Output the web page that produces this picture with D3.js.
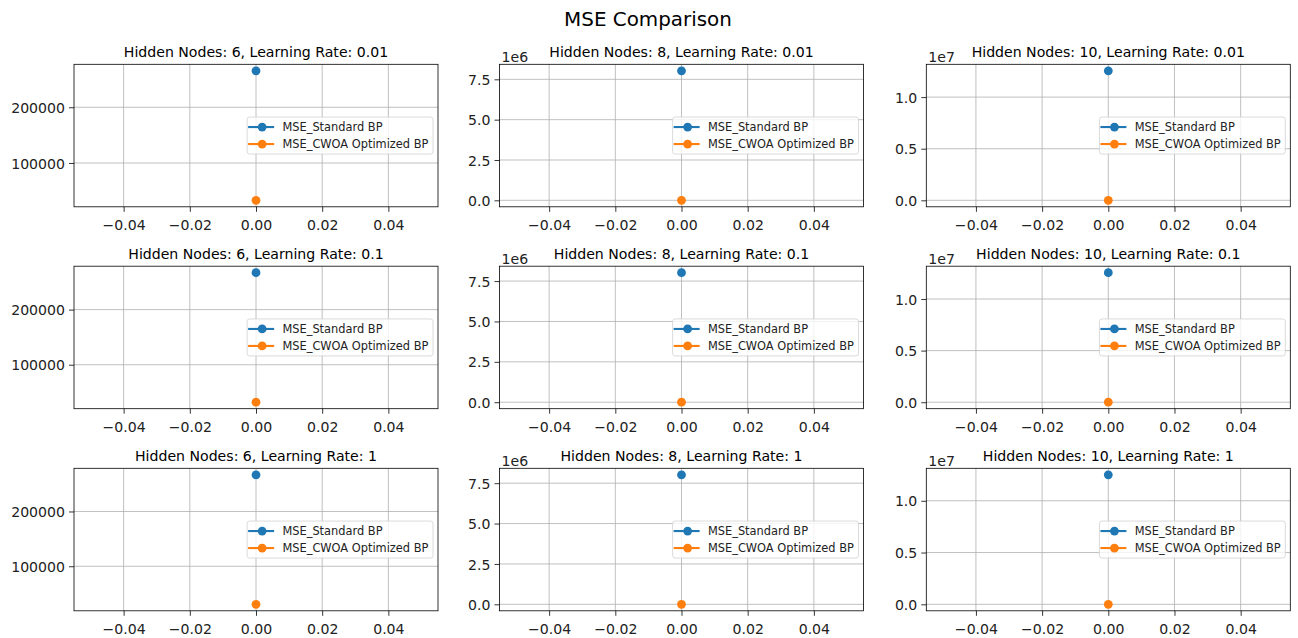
<!DOCTYPE html>
<html>
<head>
<meta charset="utf-8">
<script src="https://cdn.jsdelivr.net/npm/d3@7"></script>
<style>
  html, body { margin: 0; padding: 0; background: #fff; }
  svg { display: block; font-family: "DejaVu Sans", sans-serif; }
</style>
</head>
<body>
<svg id="chart" width="1298" height="638"></svg>
<script>
// Grid of runs: rows = learning rate, columns = hidden nodes
const hiddenNodes = [6, 8, 10];
const learningRates = ["0.01", "0.1", "1"];

// MSE of the standard BP network, [row][column]
const mseStandard = [
  [265500, 8030000, 12550000],
  [267000, 8020000, 12550000],
  [267000, 8020000, 12510000]
];
// MSE of the CWOA-optimised BP network, [row][column]
const mseCWOA = [
  [33000, 0, 0],
  [32000, 0, 0],
  [30500, 0, 0]
];

// Single evaluation point on the x axis
const xValues = [0];
const xTicks = [-0.04, -0.02, 0, 0.02, 0.04];

// y ticks and the scale exponent shown above each column's axis
const yTicksByColumn = [
  [100000, 200000],
  [0, 2500000, 5000000, 7500000],
  [0, 5000000, 10000000]
];
const yExponentByColumn = [0, 6, 7];

const seriesNames = ["MSE_Standard BP", "MSE_CWOA Optimized BP"];
const seriesColors = ["#1f77b4", "#ff7f0e"];

const svg = d3.select("#chart");

// Panel geometry
const panelW = 364, panelH = 142.5;
const colLeft = [74, 499.5, 926.3];
const rowTop = [64.3, 266.2, 468.3];

svg.append("text")
  .attr("x", 648).attr("y", 26)
  .attr("text-anchor", "middle")
  .attr("font-size", "19.9px")
  .attr("fill", "#000")
  .text("MSE Comparison");

const xScale = d3.scaleLinear().domain([-0.055, 0.055]).range([0, panelW]);
const fmtX = d3.format(".2f");

learningRates.forEach((lr, r) => {
  hiddenNodes.forEach((hn, c) => {
    const g = svg.append("g").attr("transform", `translate(${colLeft[c]},${rowTop[r]})`);

    const series = [
      xValues.map(x => ({ x, y: mseStandard[r][c] })),
      xValues.map(x => ({ x, y: mseCWOA[r][c] }))
    ];
    const all = series.flat().map(d => d.y);
    const lo = d3.min(all), hi = d3.max(all);
    const pad = (hi - lo) * 0.05;
    const yScale = d3.scaleLinear().domain([lo - pad, hi + pad]).range([panelH, 0]);

    const exp = yExponentByColumn[c];
    const fmtY = exp === 0 ? (v => String(v)) : (v => d3.format(".1f")(v / Math.pow(10, exp)));

    // grid
    g.append("g").selectAll("line.gx").data(xTicks).join("line")
      .attr("x1", d => xScale(d)).attr("x2", d => xScale(d))
      .attr("y1", 0).attr("y2", panelH)
      .attr("stroke", "#b0b0b0").attr("stroke-width", 0.8);
    g.append("g").selectAll("line.gy").data(yTicksByColumn[c]).join("line")
      .attr("x1", 0).attr("x2", panelW)
      .attr("y1", d => yScale(d)).attr("y2", d => yScale(d))
      .attr("stroke", "#b0b0b0").attr("stroke-width", 0.8);

    // series lines and markers
    const line = d3.line().x(d => xScale(d.x)).y(d => yScale(d.y));
    series.forEach((s, i) => {
      g.append("path").datum(s).attr("d", line)
        .attr("fill", "none").attr("stroke", seriesColors[i]).attr("stroke-width", 2.1);
      g.append("g").selectAll("circle").data(s).join("circle")
        .attr("cx", d => xScale(d.x)).attr("cy", d => yScale(d.y))
        .attr("r", 4.4).attr("fill", seriesColors[i]);
    });

    // axes
    const xAxis = g.append("g").attr("transform", `translate(0,${panelH})`)
      .call(d3.axisBottom(xScale).tickValues(xTicks).tickFormat(fmtX).tickSize(5).tickPadding(4));
    const yAxis = g.append("g")
      .call(d3.axisLeft(yScale).tickValues(yTicksByColumn[c]).tickFormat(fmtY).tickSize(5).tickPadding(4));
    [xAxis, yAxis].forEach(ax => {
      ax.select(".domain").remove();
      ax.selectAll(".tick line").attr("stroke", "#000").attr("stroke-width", 0.8);
      ax.selectAll(".tick text").attr("font-size", "14.1px").attr("fill", "#222")
        .attr("font-family", "DejaVu Sans, sans-serif");
    });
    xAxis.selectAll(".tick text").attr("y", 10).attr("dy", "0.95em");
    yAxis.selectAll(".tick text").attr("dy", "0.36em");

    // frame
    g.append("rect").attr("width", panelW).attr("height", panelH)
      .attr("fill", "none").attr("stroke", "#000").attr("stroke-width", 0.8);

    if (exp !== 0) {
      g.append("text").attr("x", 2).attr("y", -2.6)
        .attr("font-size", "14.1px").attr("fill", "#222")
        .text("1e" + exp);
    }

    g.append("text")
      .attr("x", panelW / 2).attr("y", -7.5)
      .attr("text-anchor", "middle")
      .attr("font-size", "14.1px").attr("fill", "#000")
      .text(`Hidden Nodes: ${hn}, Learning Rate: ${lr}`);

    // legend, centred on the right edge
    const lg = g.append("g");
    const box = lg.append("rect").attr("rx", 2.5).attr("ry", 2.5)
      .attr("fill", "#fff").attr("fill-opacity", 0.8)
      .attr("stroke", "#d0d0d0").attr("stroke-width", 0.8);
    const texts = seriesNames.map((name, i) => {
      const yy = panelH / 2 + (i === 0 ? -8.5 : 8.5);
      lg.append("line").attr("x1", 1).attr("x2", 27).attr("y1", yy).attr("y2", yy)
        .attr("stroke", seriesColors[i]).attr("stroke-width", 2.1);
      lg.append("circle").attr("cx", 15).attr("cy", yy).attr("r", 4.4).attr("fill", seriesColors[i]);
      return lg.append("text").attr("x", 35.3).attr("y", yy).attr("dy", "0.36em")
        .attr("font-size", "11.4px").attr("fill", "#222").text(name);
    });
    const maxW = d3.max(texts, t => t.node().getComputedTextLength());
    const boxW = 35.3 + maxW + 4.6;
    box.attr("x", 0).attr("y", panelH / 2 - 18.5).attr("width", boxW).attr("height", 37);
    lg.attr("transform", `translate(${panelW - 5 - boxW},0)`);
  });
});
</script>
</body>
</html>
